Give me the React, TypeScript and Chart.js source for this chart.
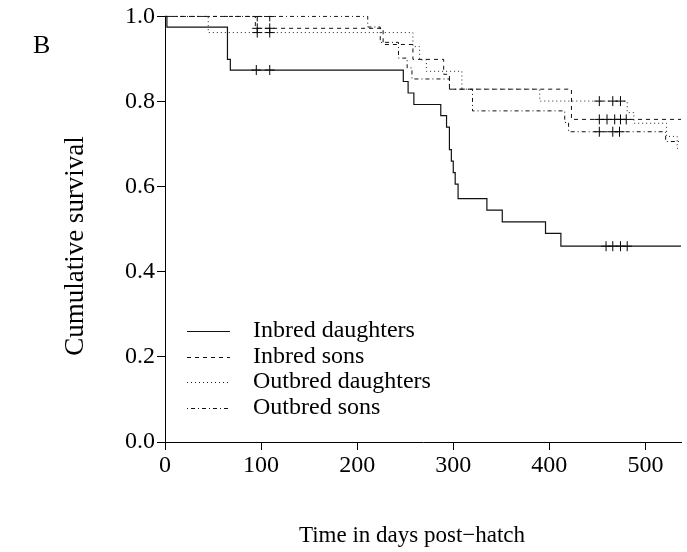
import React, { useEffect, useRef } from "react";
import { Chart, registerables } from "chart.js";

Chart.register(...registerables);

// ---- labels -------------------------------------------------------------
const panelLabel = "B";
const xAxisTitle = "Time in days post\u2212hatch";
const yAxisTitle = "Cumulative survival";
const xTickValues = [0, 100, 200, 300, 400, 500];
const yTickValues = [0, 0.2, 0.4, 0.6, 0.8, 1.0];
const xMin = 0;
const xMax = 537;

const groupNames = ["Inbred daughters", "Inbred sons", "Outbred daughters", "Outbred sons"];

// ---- Kaplan–Meier steps: day of each drop and survival from that day on --
const inbredDaughterDays = [0, 2, 65, 68, 248, 253, 259, 287, 293, 296, 298, 300, 302, 305, 335, 351, 396, 412, 537];
const inbredDaughterSurv = [1.0, 0.975, 0.899, 0.874, 0.847, 0.82, 0.793, 0.767, 0.74, 0.687, 0.66, 0.633, 0.606, 0.572, 0.545, 0.517, 0.49, 0.46, 0.46];
const inbredDaughterCensored = [95, 109, 459, 466, 474, 481];

const inbredSonDays = [0, 94, 227, 258, 290, 296, 423, 537];
const inbredSonSurv = [1.0, 0.972, 0.934, 0.899, 0.864, 0.829, 0.758, 0.758];
const inbredSonCensored = [96, 109, 452, 460, 468, 474, 480];

const outbredDaughterDays = [0, 45, 258, 265, 272, 309, 390, 481, 488, 522, 533, 537];
const outbredDaughterSurv = [1.0, 0.962, 0.929, 0.898, 0.871, 0.829, 0.801, 0.774, 0.749, 0.718, 0.69, 0.69];
const outbredDaughterCensored = [96, 109, 452, 466, 474];

const outbredSonDays = [0, 211, 224, 243, 252, 257, 296, 320, 416, 420, 521, 537];
const outbredSonSurv = [1.0, 0.975, 0.939, 0.902, 0.879, 0.853, 0.829, 0.778, 0.751, 0.729, 0.706, 0.706];
const outbredSonCensored = [96, 109, 452, 466, 473];

// ---- styling -------------------------------------------------------------
const FONT = "'Liberation Serif', 'Times New Roman', Times, serif";
const INK = "#000";

const groups = [
  { days: inbredDaughterDays, surv: inbredDaughterSurv, censored: inbredDaughterCensored, dash: [] as number[], width: 1.2, color: "#111" },
  { days: inbredSonDays, surv: inbredSonSurv, censored: inbredSonCensored, dash: [4, 4], width: 1, color: "#111" },
  { days: outbredDaughterDays, surv: outbredDaughterSurv, censored: outbredDaughterCensored, dash: [1, 3], width: 1, color: "#222" },
  { days: outbredSonDays, surv: outbredSonSurv, censored: outbredSonCensored, dash: [1, 3, 4, 3], width: 1, color: "#111" },
];

// survival level of a step curve at a given day
function levelAt(days: number[], surv: number[], t: number): number {
  let s = surv[0];
  for (let i = 0; i < days.length; i++) {
    if (days[i] <= t) s = surv[i];
  }
  return s;
}

// Panel letter, axis titles and the in-plot key
const decorations = {
  id: "decorations",
  afterDraw(chart: any) {
    const { ctx } = chart;
    ctx.save();
    ctx.fillStyle = INK;
    ctx.textBaseline = "middle";

    ctx.font = `26px ${FONT}`;
    ctx.textAlign = "left";
    ctx.fillText(panelLabel, 33, 46);

    ctx.font = `23px ${FONT}`;
    ctx.textAlign = "center";
    ctx.fillText(xAxisTitle, 412, 536);

    ctx.save();
    ctx.font = `27px ${FONT}`;
    ctx.translate(76, 246);
    ctx.rotate(-Math.PI / 2);
    ctx.fillText(yAxisTitle, 0, 0);
    ctx.restore();

    // key
    ctx.font = `24px ${FONT}`;
    const lines = chart.data.datasets.filter((d: any) => d.keySample);
    lines.forEach((d: any, i: number) => {
      const y = 331 + i * 25.5;
      ctx.save();
      ctx.strokeStyle = d.borderColor;
      ctx.lineWidth = d.borderWidth;
      ctx.setLineDash(d.borderDash);
      ctx.beginPath();
      ctx.moveTo(187, Math.round(y) + 0.5);
      ctx.lineTo(230, Math.round(y) + 0.5);
      ctx.stroke();
      ctx.restore();
      ctx.textAlign = "left";
      ctx.fillText(d.label, 253, y);
    });
    ctx.restore();
  },
};

export default function App() {
  const canvasRef = useRef<HTMLCanvasElement | null>(null);

  useEffect(() => {
    const canvas = canvasRef.current;
    if (!canvas) return;

    const curveSets = groups.map((g, i) => ({
      label: groupNames[i],
      keySample: true,
      data: g.days.map((d, j) => ({ x: d, y: g.surv[j] })),
      showLine: true,
      stepped: "before" as const,
      borderColor: g.color,
      borderWidth: g.width,
      borderDash: g.dash,
      pointRadius: 0,
      fill: false,
      clip: 1,
    }));

    const censorSets = groups.map((g, i) => ({
      label: groupNames[i] + " (censored)",
      data: g.censored.map((t) => ({ x: t, y: levelAt(g.days, g.surv, t) })),
      showLine: false,
      pointStyle: "cross" as const,
      pointRadius: 5,
      pointBorderWidth: 1,
      pointBorderColor: "#000",
      borderColor: "#000",
      backgroundColor: "#000",
      clip: 0.5,
    }));

    const tickFont = { family: FONT, size: 24 };

    const chart = new Chart(canvas, {
      type: "scatter",
      data: { datasets: [...curveSets, ...censorSets] as any },
      options: {
        animation: false,
        responsive: false,
        devicePixelRatio: 1,
        events: [],
        layout: { padding: { top: 15, left: 0, right: 0, bottom: 0 } },
        plugins: { legend: { display: false }, tooltip: { enabled: false }, title: { display: false } },
        scales: {
          x: {
            type: "linear",
            min: xMin,
            max: xMax,
            afterBuildTicks: (scale: any) => {
              scale.ticks = xTickValues.map((v) => ({ value: v }));
            },
            afterFit: (scale: any) => {
              scale.height = 110;
            },
            ticks: { font: tickFont, color: INK, padding: 1, maxRotation: 0, autoSkip: false, callback: (v: any) => String(v) },
            grid: { display: true, drawOnChartArea: false, drawTicks: true, tickLength: 8, color: INK, lineWidth: 1 },
            border: { display: true, color: INK, width: 1 },
          },
          y: {
            type: "linear",
            min: 0,
            max: 1,
            afterBuildTicks: (scale: any) => {
              scale.ticks = yTickValues.map((v) => ({ value: v }));
            },
            afterFit: (scale: any) => {
              scale.width = 165;
            },
            ticks: { font: tickFont, color: INK, padding: 2, autoSkip: false, callback: (v: any) => Number(v).toFixed(1) },
            grid: { display: true, drawOnChartArea: false, drawTicks: true, tickLength: 8, color: INK, lineWidth: 1 },
            border: { display: true, color: INK, width: 1 },
          },
        },
      },
      plugins: [decorations],
    });

    return () => chart.destroy();
  }, []);

  return (
    <div style={{ position: "absolute", left: 0, top: 0, width: 687, height: 552, background: "#fff" }}>
      <canvas ref={canvasRef} width={687} height={552} />
    </div>
  );
}
